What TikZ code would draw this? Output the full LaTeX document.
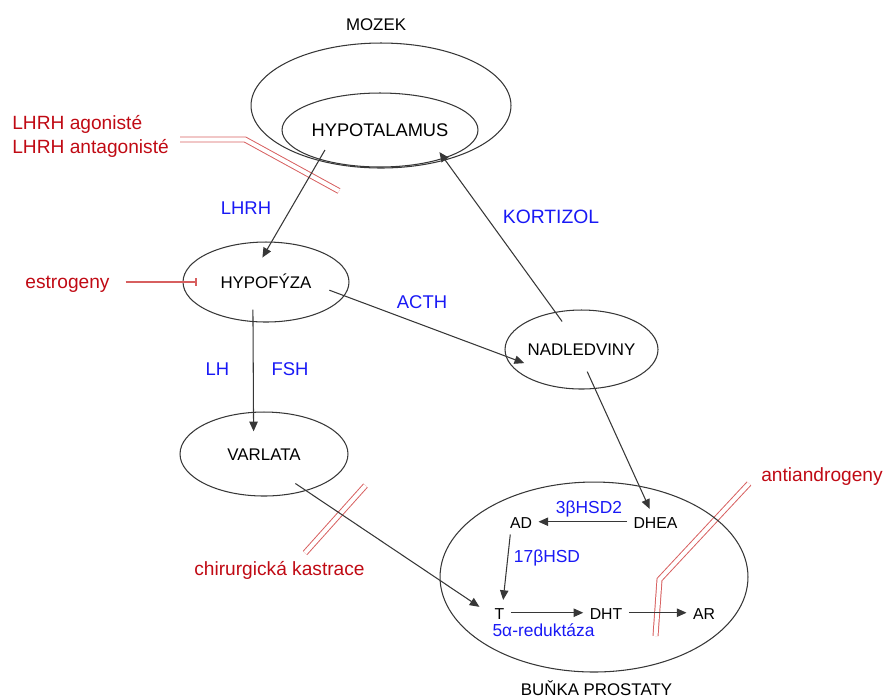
\documentclass[tikz,border=0pt]{standalone}
\usepackage{fontspec}
\setmainfont{Liberation Sans}
\usetikzlibrary{shapes.geometric,arrows.meta}
\definecolor{hormon}{RGB}{25,25,245}
\definecolor{lecivo}{RGB}{192,10,20}
\definecolor{blok}{RGB}{215,95,95}
\definecolor{cara}{RGB}{55,55,55}

\begin{document}
\begin{tikzpicture}[x=0.02cm,y=-0.02cm,
  organ/.style={draw=cara,line width=0.6pt,ellipse,inner sep=0pt,text height=0.716em,text depth=0pt,font=\fontsize{9.6}{11}\selectfont},
  latka/.style={inner sep=3.5pt,text height=0.716em,text depth=0pt,anchor=base,font=\fontsize{9}{10}\selectfont},
  popis/.style={inner sep=0pt,anchor=base,font=\fontsize{9.6}{11}\selectfont},
  hormontxt/.style={text=hormon,inner sep=0pt,anchor=base,font=\fontsize{10.5}{12}\selectfont},
  enzym/.style={hormontxt,font=\fontsize{9.9}{11}\selectfont},
  lecivotxt/.style={text=lecivo,inner sep=0pt,font=\fontsize{10.9}{12}\selectfont},
  sip/.style={draw=cara,line width=0.6pt,-{Triangle[length=5.5pt,width=4.8pt]}},
  blokace/.style={draw=blok,line width=0.55pt,double=white,double distance=2.3pt},
  brzda/.style={draw=blok,line width=0.6pt,-{Bar[width=4.5pt]}}]
\useasboundingbox (0,0) rectangle (884,698);
%blocking marks
\draw[blokace] (180,139.5) -- (245,139.5) -- (339,191);
\draw[blokace] (305,553) -- (365.5,485.5);
\draw[blokace] (749,483.5) -- (659.5,579.5) -- (655.5,636);
%brain
\node[organ,minimum width=5.2cm,minimum height=2.5cm] (mozek) at (381,105.5) {};
\node[popis] (mozektxt) at (376,30) {MOZEK};
\node[organ,minimum width=3.92cm,minimum height=1.48cm,font=\fontsize{10.4}{12}\selectfont] (hypot) at (380,130) {HYPOTALAMUS};
%glands
\node[organ,minimum width=3.32cm,minimum height=1.6cm] (hypof) at (266,282) {HYPOFÝZA};
\node[organ,minimum width=3.06cm,minimum height=1.58cm] (nadl) at (581.5,349.5) {NADLEDVINY};
\node[organ,minimum width=3.36cm,minimum height=1.68cm] (varl) at (264,454) {VARLATA};
%prostate cell
\node[organ,minimum width=6.16cm,minimum height=3.8cm] (bunka) at (594,577) {};
\node[popis] (bunkatxt) at (596.5,695) {BUŇKA PROSTATY};
\node[latka] (ad) at (521,528) {AD};
\node[latka] (dhea) at (655.5,528) {DHEA};
\node[latka] (t) at (499.5,619) {T};
\node[latka] (dht) at (606,619) {DHT};
\node[latka] (ar) at (704,619) {AR};
%hormones and enzymes
\node[hormontxt] (lhrh) at (246,214) {LHRH};
\node[hormontxt,font=\fontsize{11}{13}\selectfont] (kortizol) at (551,223) {KORTIZOL};
\node[hormontxt] (acth) at (422,308) {ACTH};
\node[hormontxt] (lh) at (217.5,375) {LH};
\node[hormontxt] (fsh) at (290,375) {FSH};
\node[enzym] (hsd2) at (589,513) {3βHSD2};
\node[enzym] (hsd17) at (547,562) {17βHSD};
\node[enzym] (redukt) at (543.5,636) {5α-reduktáza};
%drugs
\node[lecivotxt,anchor=base west] (agon) at (12,129) {LHRH agonisté};
\node[lecivotxt,anchor=base west] (antagon) at (12,153) {LHRH antagonisté};
\node[lecivotxt,anchor=base] (estr) at (67.5,288) {estrogeny};
\node[lecivotxt,anchor=base] (kastr) at (279.5,575) {chirurgická kastrace};
\node[lecivotxt,anchor=base] (antiandr) at (822,481) {antiandrogeny};
\draw[brzda,shorten <=9pt,shorten >=-8pt] (estr.east |- hypof.west) -- (hypof.west);
%axis
\draw[sip,shorten <=-6.3pt,shorten >=-10.5pt] (hypot.206.7) -- (hypof.82);
\draw[sip,shorten <=-6.7pt,shorten >=-4.5pt] (nadl.125.5) -- (hypot.-24.4);
\draw[sip,shorten <=-9.2pt,shorten >=-11.3pt] (hypof.-10.7) -- (nadl.185);
\draw[sip,shorten <=-7.1pt,shorten >=-11.1pt] (hypof.-108.2) -- (varl.104.8);
\draw[sip,shorten <=-10.8pt] (nadl.-71) -- (dhea);
\draw[sip,shorten <=-7.5pt,shorten >=6pt] (varl.-41) -- (t.west);
%synthesis
\draw[sip] (dhea) -- (ad);
\draw[sip] (ad.230) -- (t.74);
\draw[sip] (t) -- (dht);
\draw[sip] (dht) -- (ar);
\end{tikzpicture}
\end{document}
